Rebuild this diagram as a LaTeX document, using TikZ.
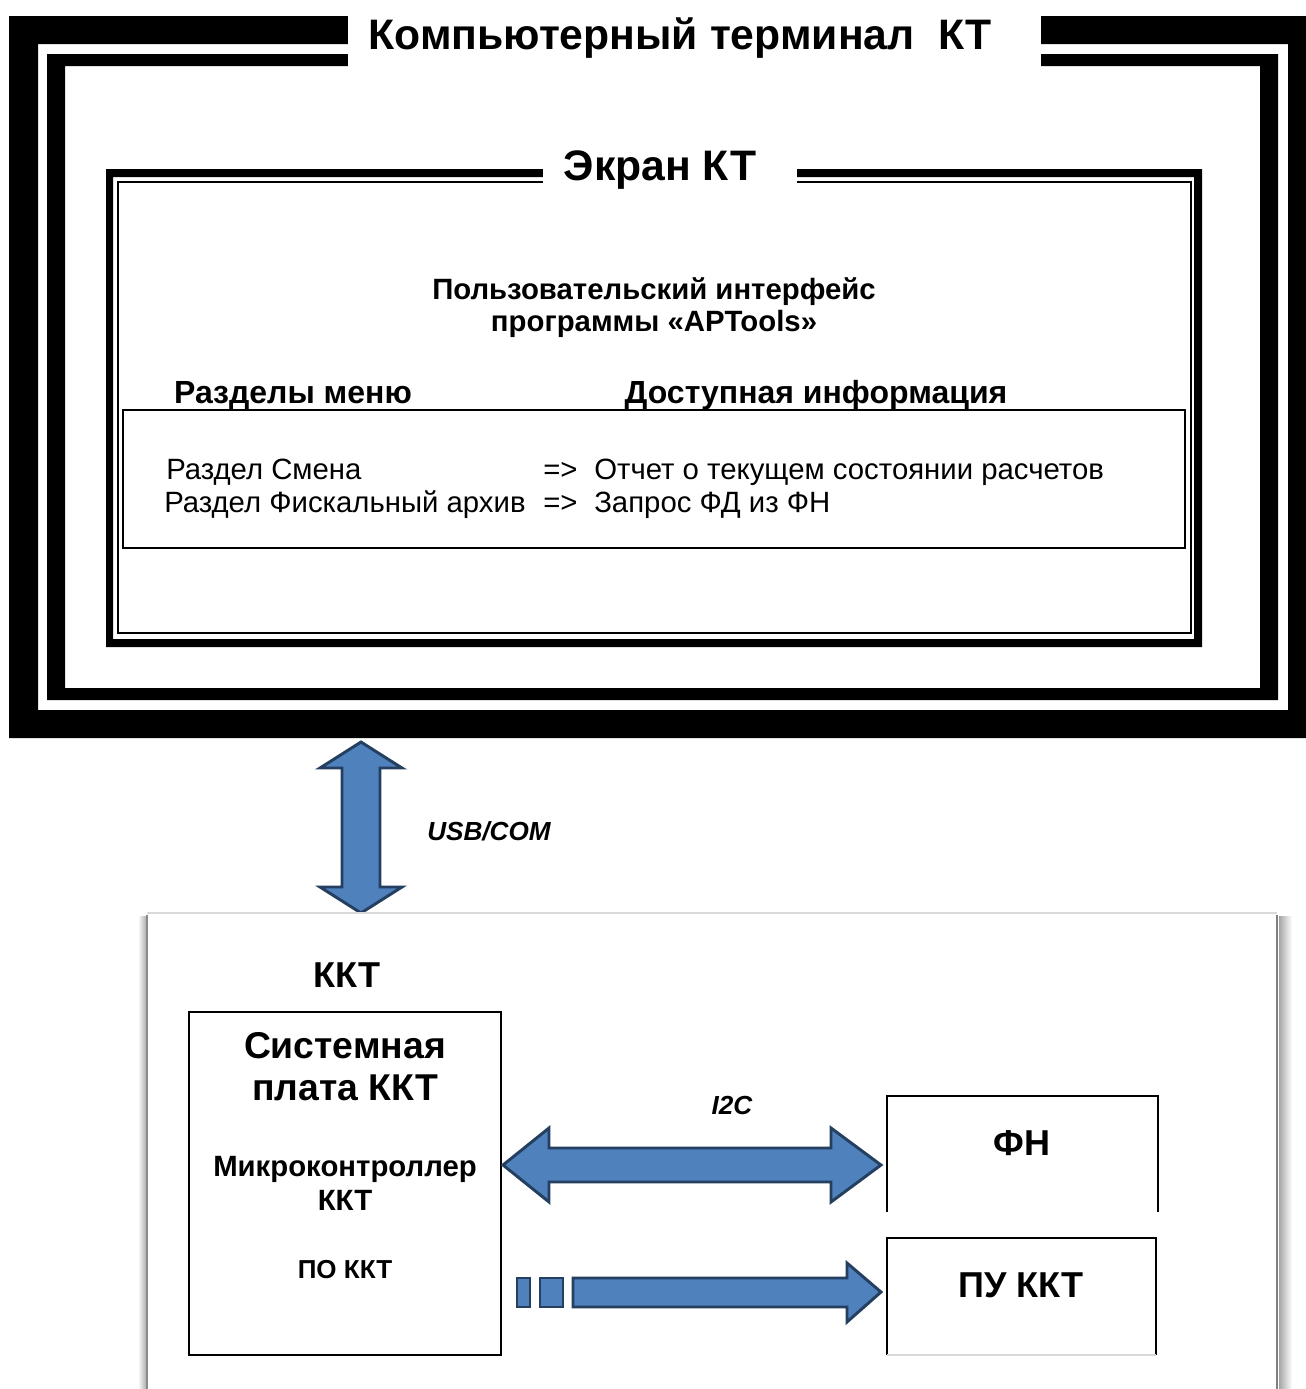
\documentclass[tikz,border=0pt]{standalone}
\usepackage{fontspec}
\setmainfont{Liberation Sans}
\definecolor{arrfill}{HTML}{4F81BD}
\definecolor{arrline}{HTML}{243F60}
\begin{document}
\begin{tikzpicture}[x=0.75pt,y=-0.75pt,
  txt/.style={inner sep=0pt, anchor=base},
  blockarrow/.style={fill=arrfill, draw=arrline, line width=2.2pt, line join=miter},
  thinbox/.style={draw=black, line width=1.1pt},
  bigbold/.style={font=\fontsize{32}{38}\selectfont\bfseries},
  midbold/.style={font=\fontsize{27}{32}\selectfont\bfseries},
  sysbold/.style={font=\fontsize{28}{31.5}\selectfont\bfseries},
  hdbold/.style={font=\fontsize{24}{28}\selectfont\bfseries},
  uibold/.style={font=\fontsize{22}{24}\selectfont\bfseries},
  mcbold/.style={font=\fontsize{22}{25}\selectfont\bfseries},
  smbold/.style={font=\fontsize{19.5}{24}\selectfont\bfseries},
  body/.style={font=\fontsize{22}{26}\selectfont},
  lbl/.style={font=\fontsize{19.6}{24}\selectfont\bfseries\itshape}
]
\useasboundingbox (0,0) rectangle (1306,1389);
% ---------- outer frame: computer terminal ----------
\fill[black, even odd rule] (9,16) rectangle (1306,738) (38,44) rectangle (1288,710);
\fill[black, even odd rule] (47,54) rectangle (1278,700) (65,66) rectangle (1260,688);
\fill[white] (348,0) rectangle (1041,67);
\node[txt, bigbold] (kt) at (680,49) {Компьютерный терминал\ \ КТ};
% ---------- screen frame ----------
\fill[black, even odd rule] (106,169) rectangle (1202,647) (113,177) rectangle (1194,639);
\draw[line width=1.5pt] (118,182) rectangle (1191,633);
\fill[white] (543,145) rectangle (797,190);
\node[txt, bigbold] (ekran) at (660,180) {Экран КТ};
\node[txt, uibold, align=center] (ui) at (654,331) {Пользовательский интерфейс\\программы «APTools»};
\node[txt, hdbold] (razd) at (293,403) {Разделы меню};
\node[txt, hdbold] (dost) at (816,403) {Доступная информация};
\draw[thinbox] (123,410) rectangle (1185,548);
\node[txt, body, anchor=base west] (r1) at (166,479) {Раздел Смена};
\node[txt, body, anchor=base west] (r2) at (164,512) {Раздел Фискальный архив};
\node[txt, body, anchor=base west] (a1) at (543,479) {=>};
\node[txt, body, anchor=base west] (a2) at (543,512) {=>};
\node[txt, body, anchor=base west] (i1) at (594,479) {Отчет о текущем состоянии расчетов};
\node[txt, body, anchor=base west] (i2) at (594,512) {Запрос ФД из ФН};
% ---------- USB/COM arrow ----------
\draw[blockarrow] (361,742) -- (402,768) -- (380,768) -- (380,887) -- (402,887) -- (361,913)
  -- (320,887) -- (342,887) -- (342,768) -- (320,768) -- cycle;
\node[txt, lbl, anchor=base west] (usb) at (427,840) {USB/COM};
% ---------- KKT page ----------
\fill[white] (147,913) rectangle (1277,1389);
\shade[left color=white, right color=black!35] (138,916) rectangle (147,1389);
\draw[black!45, line width=1.5pt] (147,915) -- (147,1389);
\draw[black!15, line width=2pt] (147,913) -- (1277,913);
\draw[black!50, line width=2.2pt] (1277,915) -- (1277,1389);
\shade[left color=black!35, right color=white] (1279,916) rectangle (1292,1389);
\node[txt, midbold] (kkt) at (347,987) {ККТ};
\draw[thinbox] (189,1012) rectangle (501,1355);
\node[txt, sysbold, align=center] (sys) at (345,1100) {Системная\\плата ККТ};
\node[txt, mcbold, align=center] (mc) at (345,1210) {Микроконтроллер\\ККТ};
\node[txt, smbold] (po) at (345,1278) {ПО ККТ};
% ---------- FN / PU boxes ----------
\draw[thinbox] (887,1212) -- (887,1096) -- (1158,1096) -- (1158,1212);
\node[txt, midbold] (fn) at (1022,1155) {ФН};
\draw[thinbox] (887,1355) -- (887,1238) -- (1156,1238) -- (1156,1355);
\draw[black!15, line width=1pt] (887,1355) -- (1156,1355);
\node[txt, midbold] (pu) at (1021,1297) {ПУ ККТ};
% ---------- I2C arrow ----------
\draw[blockarrow] (503,1165) -- (549,1128) -- (549,1148) -- (831,1148) -- (831,1128) -- (881,1165)
  -- (831,1202) -- (831,1182) -- (549,1182) -- (549,1202) -- cycle;
\node[txt, lbl] (i2c) at (732,1114) {I2C};
% ---------- one-way arrow ----------
\draw[blockarrow] (517,1278) rectangle (530,1307);
\draw[blockarrow] (540,1278) rectangle (563,1307);
\draw[blockarrow] (573,1278) -- (847,1278) -- (847,1263) -- (881,1292) -- (847,1322) -- (847,1307)
  -- (573,1307) -- cycle;
\end{tikzpicture}
\end{document}
